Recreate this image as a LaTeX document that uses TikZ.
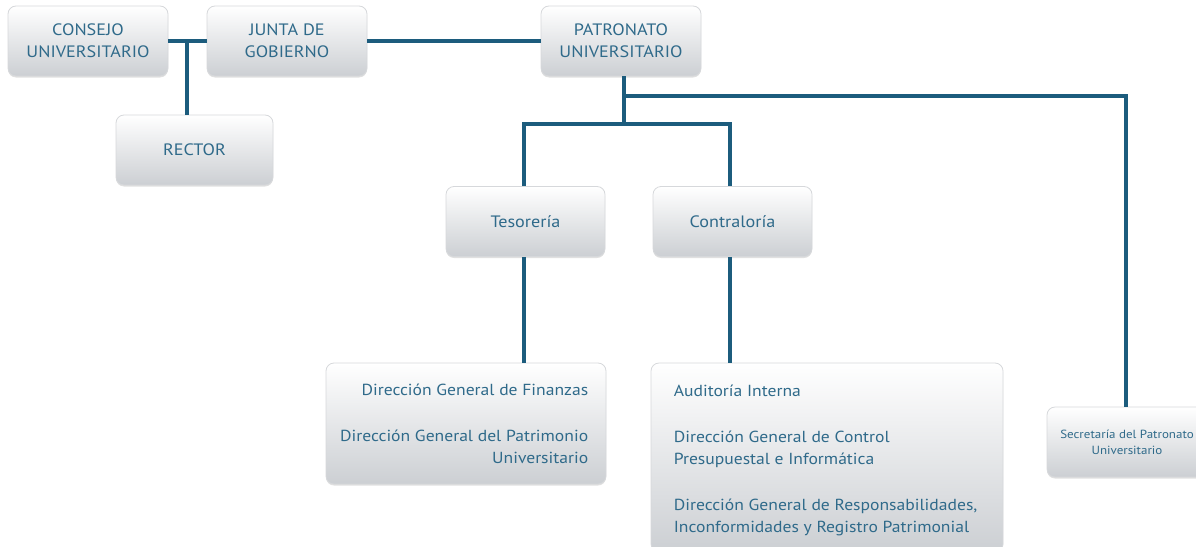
\documentclass[tikz,border=0pt]{standalone}
\usepackage{fontspec}
\setmainfont[FakeStretch=1.1]{PT Sans}
\usetikzlibrary{shadows}
\definecolor{linkblue}{RGB}{28,92,125}
\definecolor{labelblue}{RGB}{47,106,138}
\definecolor{boxbottom}{RGB}{204,207,211}
\definecolor{boxedge}{RGB}{214,216,219}
\begin{document}
\begin{tikzpicture}[x=1pt,y=-1pt,
  orgbox/.style={rectangle, rounded corners=8pt, draw=boxedge, line width=0.8pt,
    top color=white, bottom color=boxbottom, inner sep=0pt,
    drop shadow={shadow xshift=0pt, shadow yshift=-1.5pt, opacity=0.12, fill=black},
    text=labelblue, align=center},
  capsfont/.style={font=\fontsize{16.5}{22}\selectfont},
  listtext/.style={text=labelblue, inner sep=0pt, font=\fontsize{16}{22}\selectfont},
  link/.style={draw=linkblue, line width=4pt}]
\useasboundingbox (0,0) rectangle (1196,546);
\begin{scope}
\clip (0,0) rectangle (1196,546);

% top row
\node[orgbox, capsfont, minimum width=160pt, minimum height=70pt] (consejo) at (88,41) {CONSEJO\\UNIVERSITARIO};
\node[orgbox, capsfont, minimum width=160pt, minimum height=70pt] (junta) at (287,41) {JUNTA DE\\GOBIERNO};
\node[orgbox, capsfont, minimum width=160pt, minimum height=70pt] (patronato) at (621,41) {PATRONATO\\UNIVERSITARIO};
\node[orgbox, capsfont, minimum width=157pt, minimum height=70pt] (rector) at (194.5,150) {RECTOR};

% second level
\node[orgbox, font=\fontsize{16.5}{22}\selectfont, minimum width=159pt, minimum height=70pt] (tesoreria) at (525.5,221.5) {Tesorería};
\node[orgbox, font=\fontsize{16.5}{22}\selectfont, minimum width=159pt, minimum height=70pt] (contraloria) at (732.5,221.5) {Contraloría};

% lower boxes
\node[orgbox, minimum width=280pt, minimum height=121pt] (finanzas) at (466,423.5) {};
\node[listtext, anchor=east, align=right] (finanzastxt) at ([xshift=-18pt]finanzas.east)
  {Dirección General de Finanzas\\[24pt]Dirección General del Patrimonio\\Universitario};

\node[orgbox, minimum width=352pt, minimum height=189pt] (auditoria) at (827,457.5) {};
\node[listtext, anchor=west, align=left] (auditoriatxt) at ([xshift=23pt,yshift=-2.5pt]auditoria.west)
  {Auditoría Interna\\[24pt]Dirección General de Control\\Presupuestal e Informática\\[24pt]Dirección General de Responsabilidades,\\Inconformidades y Registro Patrimonial};

\node[orgbox, font=\fontsize{11.8}{16}\selectfont, minimum width=160pt, minimum height=70pt] (secretaria) at (1127,442) {Secretaría del Patronato\\Universitario};

% connectors
\coordinate (tee) at (187,41);
\coordinate (branch) at (624,124);
\coordinate (side) at (624,96);
\coordinate (tesx) at (524,124);
\coordinate (conx) at (730,124);
\coordinate (secx) at (1126,96);

\draw[link] (consejo.east) -- (junta.west);
\draw[link] (tee) -- (tee |- rector.north);
\draw[link] (junta.east) -- (patronato.west);
\draw[link] (patronato.south -| branch) -- (branch);
\draw[link] (side) -- (secx) -- (secx |- secretaria.north);
\draw[link] (tesoreria.north -| tesx) -- (tesx) -- (conx) -- (conx |- contraloria.north);
\draw[link] (tesoreria.south -| tesx) -- (finanzas.north -| tesx);
\draw[link] (contraloria.south -| conx) -- (auditoria.north -| conx);
\end{scope}
\end{tikzpicture}
\end{document}
